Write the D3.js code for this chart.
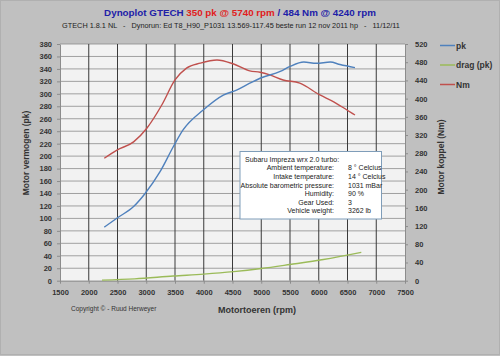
<!DOCTYPE html>
<html><head><meta charset="utf-8">
<script src="https://cdn.jsdelivr.net/npm/d3@7"></script>
<style>
html,body{margin:0;padding:0;background:#c0c0c0;}
svg{display:block;font-family:"Liberation Sans",Arial,sans-serif;}
</style></head><body>
<svg id="c" width="500" height="356"></svg>
<script>
// ---- data ----
const pkRpm = [2270,2500,2780,2980,3240,3470,3640,3990,4340,4570,4800,4980,5330,5500,5740,5960,6200,6370,6630];
const pkVal = [86,101,119,140,175,215,242,274,298,306,317,325,336,344,351,349,351,347,342];
const nmRpm = [2270,2490,2780,3010,3270,3500,3700,3940,4230,4520,4800,4980,5150,5380,5670,6020,6260,6490,6630];
const nmVal = [269,287,305,335,386,441,467,478,485,476,461,458,452,441,434,408,393,375,364];
const dragRpm = [2230,2800,3470,4000,4520,5000,5500,6080,6740];
const dragVal = [1,3,7.5,10.5,14.5,19.5,26,34,45.5];
const xTicks = [1500,2000,2500,3000,3500,4000,4500,5000,5500,6000,6500,7000,7500];
const pkTicks = d3.range(0,381,20);
const nmTicks = d3.range(0,521,40);
const seriesNames = ["pk","drag (pk)","Nm"];
const seriesColors = ["#4f81bd","#9bbb59","#c0504d"];
const infoLabels = ["Ambient temperature:","Intake temperature:","Absolute barometric pressure:","Humidity:","Gear Used:","Vehicle weight:"];
const infoValues = ["8 ° Celcius","14 ° Celcius","1031 mBar","90 %","3","3262 lb"];

const svg = d3.select("#c");
svg.append("rect").attr("x",0.5).attr("y",0.5).attr("width",499).attr("height",354)
  .attr("fill","#c0c0c0").attr("stroke","#b0b0b0");

const L=60,R=405,T=44,B=280.7;
const x = d3.scaleLinear().domain([1500,7500]).range([L,R]);
const yL = d3.scaleLinear().domain([0,380]).range([B,T]);
const yR = d3.scaleLinear().domain([0,520]).range([B,T]);

svg.append("rect").attr("x",L).attr("y",T).attr("width",R-L).attr("height",B-T).attr("fill","#f2f2f2");

// horizontal grid
svg.append("g").selectAll("line").data(pkTicks.slice(1)).join("line")
  .attr("x1",L).attr("x2",R).attr("y1",d=>yL(d)).attr("y2",d=>yL(d))
  .attr("stroke","#8c8c8c").attr("stroke-width",0.8);
// vertical grid
svg.append("g").selectAll("line").data(xTicks.slice(1,-1)).join("line")
  .attr("y1",T).attr("y2",B).attr("x1",d=>x(d)).attr("x2",d=>x(d))
  .attr("stroke","#3a3a3a").attr("stroke-width",1);

// axes
const gx = svg.append("g").attr("transform",`translate(0,${B})`)
  .call(d3.axisBottom(x).tickValues(xTicks).tickFormat(d3.format("d")).tickSize(3).tickSizeOuter(0).tickPadding(6));
const gl = svg.append("g").attr("transform",`translate(${L},0)`)
  .call(d3.axisLeft(yL).tickValues(pkTicks).tickSize(3).tickSizeOuter(0).tickPadding(5));
const gr = svg.append("g").attr("transform",`translate(${R},0)`)
  .call(d3.axisRight(yR).tickValues(nmTicks).tickSize(3).tickSizeOuter(0).tickPadding(7));
[gx,gl,gr].forEach(g=>{
  g.selectAll("path").attr("stroke","#8c8c8c");
  g.selectAll("line").attr("stroke","#8c8c8c");
  g.selectAll("text").attr("font-size","7.5px").attr("font-weight","bold").attr("fill","#333")
   .attr("font-family",'"Liberation Sans",Arial,sans-serif');
});

// lines
const line = (ys)=>d3.line().x(d=>x(d[0])).y(d=>ys(d[1])).curve(d3.curveMonotoneX);
const plot = svg.append("g");
plot.append("path").datum(d3.zip(dragRpm,dragVal)).attr("d",line(yL))
  .attr("fill","none").attr("stroke",seriesColors[1]).attr("stroke-width",1.4);
plot.append("path").datum(d3.zip(nmRpm,nmVal)).attr("d",line(yR))
  .attr("fill","none").attr("stroke",seriesColors[2]).attr("stroke-width",1.4);
plot.append("path").datum(d3.zip(pkRpm,pkVal)).attr("d",line(yL))
  .attr("fill","none").attr("stroke",seriesColors[0]).attr("stroke-width",1.4);

// info box
const ib = svg.append("g");
ib.append("rect").attr("x",240).attr("y",151.5).attr("width",141.5).attr("height",67.5)
  .attr("fill","#ffffff").attr("stroke","#7f9db9").attr("stroke-width",1);
ib.append("text").attr("x",245).attr("y",161.5).attr("font-size","7px").attr("fill","#222")
  .text("Subaru Impreza wrx 2.0 turbo:");
infoLabels.forEach((t,i)=>{
  ib.append("text").attr("x",334).attr("y",170.3+i*8.6).attr("text-anchor","end")
    .attr("font-size","7px").attr("fill","#222").text(t);
  ib.append("text").attr("x",348).attr("y",170.3+i*8.6)
    .attr("font-size","7px").attr("fill","#222").text(infoValues[i]);
});

// legend
const lg = svg.append("g");
seriesNames.forEach((n,i)=>{
  const yy = 45.5+i*19.5;
  lg.append("line").attr("x1",440).attr("x2",455).attr("y1",yy).attr("y2",yy)
    .attr("stroke",seriesColors[i]).attr("stroke-width",1.5);
  lg.append("text").attr("x",456).attr("y",yy+3).attr("font-size","8.5px").attr("font-weight","bold")
    .attr("fill","#333").text(n);
});

// titles
const tt = svg.append("text").attr("x",240).attr("y",15.5).attr("text-anchor","middle")
  .attr("font-size","9.8px").attr("font-weight","bold");
tt.append("tspan").attr("fill","#2020a8").text("Dynoplot GTECH ");
tt.append("tspan").attr("fill","#e02020").text("350 pk @ 5740 rpm");
tt.append("tspan").attr("fill","#2020a8").text(" / 484 Nm @ 4240 rpm");
svg.append("text").attr("x",231).attr("y",28).attr("text-anchor","middle")
  .attr("font-size","7.3px").attr("fill","#222")
  .attr("xml:space","preserve").style("white-space","pre")
  .text("GTECH 1.8.1 NL   -   Dynorun: Ed T8_H90_P1031 13.569-117.45 beste run 12 nov 2011 hp   -   11/12/11");

svg.append("text").attr("transform","translate(29,153) rotate(-90)").attr("text-anchor","middle")
  .attr("font-size","8.5px").attr("font-weight","bold").attr("fill","#333").text("Motor vermogen (pk)");
svg.append("text").attr("transform","translate(444,157) rotate(-90)").attr("text-anchor","middle")
  .attr("font-size","8.5px").attr("font-weight","bold").attr("fill","#333").text("Motor koppel (Nm)");
svg.append("text").attr("x",257).attr("y",313).attr("text-anchor","middle")
  .attr("font-size","9px").attr("font-weight","bold").attr("fill","#333").text("Motortoeren  (rpm)");
svg.append("text").attr("x",71).attr("y",311).attr("font-size","6.5px").attr("fill","#333")
  .text("Copyright © - Ruud Herweyer");
</script>
</body></html>
